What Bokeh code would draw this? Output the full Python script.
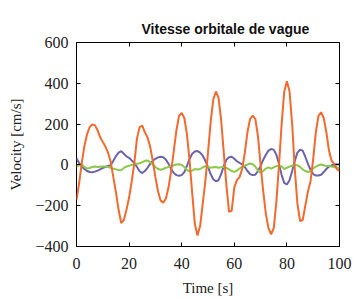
from bokeh.plotting import figure
from bokeh.models import LinearAxis, Range1d, FixedTicker, Title
from bokeh.embed import file_html
from bokeh.resources import INLINE

title_text = "Vitesse orbitale de vague"
x_label = "Time [s]"
y_label = "Velocity [cm/s]"
x_ticks = [0, 20, 40, 60, 80, 100]
y_ticks = [-400, -200, 0, 200, 400, 600]

time_s = list(range(0, 101))

orange = [-170, -90, 10, 92, 150, 185, 198, 195, 170, 135,
          112, 90, 60, 15, -60, -135, -220, -285, -270, -220,
          -160, -80, 10, 130, 185, 192, 160, 135, 90, 20,
          -60, -130, -175, -185, -165, -110, -30, 70, 170, 240,
          255, 230, 150, 20, -140, -290, -346, -300, -190, -80,
          60, 210, 320, 360, 330, 220, 60, -100, -230, -225,
          -110, -75, -60, -20, 60, 160, 225, 242, 225, 140,
          0, -130, -240, -310, -340, -310, -180, 0, 200, 360,
          410, 360, 200, -20, -190, -275, -270, -200, -130, -80,
          30, 160, 240, 258, 230, 160, 70, 20, 5, -20, -30]

purple = [31, 10, -8, -20, -30, -35, -36, -33, -28, -22,
          -15, -10, -5, -2, 20, 43, 60, 67, 55, 42,
          35, 22, 10, -10, -31, -40, -30, -14, 5, 20,
          30, 37, 40, 38, 25, 5, -20, -40, -50, -53,
          -50, -35, -5, 30, 55, 66, 68, 60, 45, 20,
          -10, -45, -70, -80, -75, -45, -5, 25, 38, 40,
          30, 18, 10, 3, -10, -30, -45, -50, -48, -30,
          -5, 25, 50, 70, 78, 75, 50, 5, -50, -88,
          -96, -75, -30, 20, 60, 75, 70, 40, 5, -25,
          -45, -52, -52, -48, -35, -20, -8, -2, 2, 3, 2]

green = [-9, -2, 2, -10, -18, -15, -10, -8, -10, -9,
         -8, -8, -10, -14, -19, -22, -25, -26, -15, -8,
         -4, 0, 3, 6, 8, 14, 20, 22, 14, 2,
         -10, -20, -24, -20, -14, -10, -5, -2, 2, 3,
         0, -10, -25, -31, -28, -20, -22, -20, -12, -6,
         -10, -14, -12, -10, -14, -12, -10, -15, -22, -30,
         -34, -28, -18, -10, -4, 2, 7, 3, -8, -28,
         -38, -30, -18, -12, -18, -12, -6, -3, -8, -20,
         -14, -8, -4, 0, -2, -10, -22, -30, -35, -30,
         -18, -8, -2, 2, -2, -6, -4, -8, -10, -14, -14]

serif = "Liberation Serif"

p = figure(width=353, height=298, x_range=Range1d(0, 100), y_range=Range1d(-400, 600),
           output_backend="svg", toolbar_location=None,
           min_border_left=76, min_border_right=14, min_border_top=42, min_border_bottom=51)
p.background_fill_color = "white"
p.border_fill_color = "white"
p.outline_line_color = "black"
p.outline_line_width = 1
p.grid.visible = False

p.title = Title(text=title_text, align="left", offset=65, standoff=11,
                text_font="Liberation Sans", text_font_size="14px",
                text_font_style="bold", text_color="#111111")

p.line(time_s, purple, color="#6c63ad", line_width=2)
p.line(time_s, green, color="#8cc84b", line_width=2)
p.line(time_s, orange, color="#f26a2e", line_width=2)

for ax in (p.xaxis[0], p.yaxis[0]):
    ax.axis_line_color = None
    ax.major_tick_in = 4
    ax.major_tick_out = 0
    ax.minor_tick_line_color = None
    ax.major_label_text_font = serif
    ax.major_label_text_font_size = "16px"
    ax.major_label_text_color = "#222222"
    ax.axis_label_text_font = serif
    ax.axis_label_text_font_size = "15px"
    ax.axis_label_text_font_style = "normal"
    ax.axis_label_text_color = "#222222"

p.xaxis[0].ticker = FixedTicker(ticks=x_ticks)
p.yaxis[0].ticker = FixedTicker(ticks=y_ticks)
p.xaxis[0].axis_label = x_label
p.yaxis[0].axis_label = y_label
p.xaxis[0].major_label_standoff = 11
p.yaxis[0].major_label_standoff = 8
p.xaxis[0].axis_label_standoff = 8
p.yaxis[0].axis_label_standoff = 8

top = LinearAxis(ticker=FixedTicker(ticks=x_ticks), axis_line_color=None,
                 major_tick_in=4, major_tick_out=0, minor_tick_line_color=None,
                 major_label_overrides={t: "" for t in x_ticks}, major_label_standoff=0)
right = LinearAxis(ticker=FixedTicker(ticks=y_ticks), axis_line_color=None,
                   major_tick_in=4, major_tick_out=0, minor_tick_line_color=None,
                   major_label_overrides={t: "" for t in y_ticks}, major_label_standoff=0)
p.add_layout(top, "above")
p.add_layout(right, "right")

open("out.html", "w").write(file_html(p, INLINE))
